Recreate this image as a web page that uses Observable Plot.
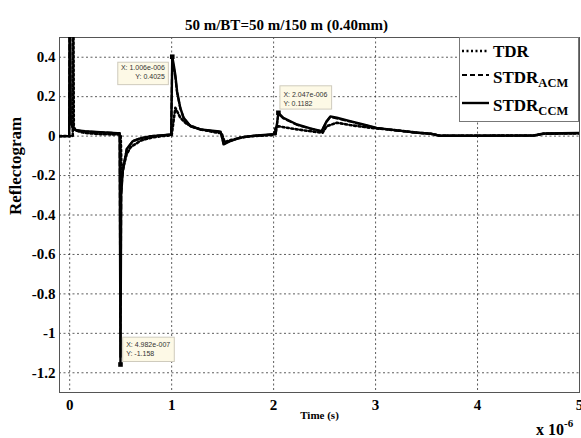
<!DOCTYPE html>
<html>
<head>
<meta charset="utf-8">
<script src="https://cdn.jsdelivr.net/npm/d3@7"></script>
<script src="https://cdn.jsdelivr.net/npm/@observablehq/plot@0.6"></script>
<style>
  html, body { margin: 0; padding: 0; background: #fff; }
  #chart { position: relative; width: 581px; height: 438px; }
</style>
</head>
<body>
<div id="chart"></div>
<script>
// ---- data (time in units of 1e-6 s) ----
const titleText = "50 m/BT=50 m/150 m (0.40mm)";
const xTicks = [0, 1, 2, 3, 4, 5];
const yTicks = [-1.2, -1, -0.8, -0.6, -0.4, -0.2, 0, 0.2, 0.4];
const yTickLabels = ["-1.2", "-1", "-0.8", "-0.6", "-0.4", "-0.2", "0", "0.2", "0.4"];

const tdrT = [-0.1, 0.03, 0.035, 0.04, 0.06, 0.1, 0.15, 0.3, 0.48, 0.5, 0.51, 0.53, 0.56, 0.6, 0.7, 0.8, 0.9, 1.0, 1.036, 1.085, 1.15, 1.28, 1.45, 1.49, 1.52, 1.58, 1.7, 1.8, 2.0, 2.02, 2.05, 2.1, 2.23, 2.4, 2.48, 2.52, 2.62, 2.75, 2.95, 3.21, 3.4, 3.54, 3.63, 4.0, 4.55, 4.65, 5.0];
const tdrV = [0, 0, 0.9, 0.045, 0.03, 0.022, 0.016, 0.01, 0.008, 0.006, -0.21, -0.15, -0.09, -0.055, -0.022, -0.008, 0.0, 0.004, 0.143, 0.093, 0.06, 0.034, 0.017, 0.015, -0.03, -0.02, -0.006, 0.0, 0.006, 0.042, 0.05, 0.045, 0.034, 0.022, 0.017, 0.05, 0.068, 0.056, 0.042, 0.029, 0.018, 0.012, 0.002, 0.002, 0.003, 0.012, 0.014];

const acmT = [-0.1, -0.005, 0.0, 0.01, 0.03, 0.06, 0.15, 0.3, 0.47, 0.49, 0.498, 0.505, 0.52, 0.56, 0.62, 0.7, 0.8, 0.95, 0.995, 1.006, 1.02, 1.036, 1.053, 1.085, 1.118, 1.185, 1.283, 1.445, 1.48, 1.51, 1.577, 1.67, 1.77, 1.97, 2.02, 2.047, 2.095, 2.23, 2.36, 2.47, 2.52, 2.556, 2.62, 2.75, 2.88, 3.01, 3.21, 3.41, 3.54, 3.63, 4.0, 4.55, 4.65, 5.0];
const acmV = [0, 0, 0.9, 0.073, 0.042, 0.03, 0.024, 0.019, 0.015, 0.014, -1.12, -0.3, -0.17, -0.065, -0.025, -0.01, 0.0, 0.006, 0.008, 0.39, 0.35, 0.3, 0.22, 0.14, 0.09, 0.05, 0.033, 0.024, 0.022, -0.04, -0.024, -0.008, 0.0, 0.008, 0.01, 0.114, 0.09, 0.057, 0.038, 0.024, 0.073, 0.097, 0.09, 0.074, 0.057, 0.041, 0.028, 0.017, 0.012, 0.002, 0.002, 0.003, 0.012, 0.015];

const ccmT = [-0.1, -0.005, 0.0, 0.01, 0.03, 0.06, 0.15, 0.3, 0.47, 0.49, 0.498, 0.505, 0.52, 0.56, 0.62, 0.7, 0.8, 0.95, 0.995, 1.006, 1.02, 1.036, 1.053, 1.085, 1.118, 1.185, 1.283, 1.445, 1.48, 1.51, 1.577, 1.67, 1.77, 1.97, 2.02, 2.047, 2.095, 2.23, 2.36, 2.47, 2.52, 2.556, 2.62, 2.75, 2.88, 3.01, 3.21, 3.41, 3.54, 3.63, 4.0, 4.55, 4.65, 5.0];
const ccmV = [0, 0, 0.9, 0.075, 0.042, 0.03, 0.025, 0.02, 0.015, 0.015, -1.158, -0.3, -0.18, -0.065, -0.025, -0.01, 0.0, 0.006, 0.008, 0.4025, 0.363, 0.31, 0.228, 0.143, 0.093, 0.05, 0.034, 0.025, 0.023, -0.042, -0.025, -0.008, 0.0, 0.008, 0.01, 0.1182, 0.093, 0.059, 0.039, 0.025, 0.076, 0.1, 0.093, 0.076, 0.059, 0.042, 0.029, 0.017, 0.012, 0.002, 0.002, 0.003, 0.013, 0.016];

const tipT = [1.006, 0.4982, 2.047];
const tipV = [0.4025, -1.158, 0.1182];
const tipXText = ["X: 1.006e-006", "X: 4.982e-007", "X: 2.047e-006"];
const tipYText = ["Y: 0.4025", "Y: -1.158", "Y: 0.1182"];

const seriesNames = ["TDR", "STDR", "STDR"];
const seriesSubs = ["", "ACM", "CCM"];

// ---- build tables ----
const tdr = tdrT.map((t, i) => ({t, v: tdrV[i]}));
const acm = acmT.map((t, i) => ({t, v: acmV[i]}));
const ccm = ccmT.map((t, i) => ({t, v: ccmV[i]}));
const tips = tipT.map((t, i) => ({t, v: tipV[i], xs: tipXText[i], ys: tipYText[i]}));

const serif = "'Liberation Serif', 'Times New Roman', serif";
const sans = "'Liberation Sans', Arial, sans-serif";

const plot = Plot.plot({
  width: 581,
  height: 438,
  marginTop: 37,
  marginRight: 2,
  marginBottom: 46,
  marginLeft: 59,
  style: {background: "#fff", fontFamily: serif},
  x: {domain: [-0.1, 5]},
  y: {domain: [-1.3, 0.5]},
  marks: [
    Plot.gridX(xTicks, {stroke: "#333", strokeOpacity: 1, strokeWidth: 0.8, strokeDasharray: "2,2.5"}),
    Plot.gridY(yTicks, {stroke: "#333", strokeOpacity: 1, strokeWidth: 0.8, strokeDasharray: "2,2.5"}),
    Plot.frame({stroke: "#555", strokeWidth: 1}),
    Plot.axisX(xTicks, {tickSize: 0, tickPadding: 7, tickFormat: d => String(d), fontSize: 15, fontWeight: "bold", fontFamily: serif, fill: "#000", label: null}),
    Plot.axisY(yTicks, {tickSize: 0, tickPadding: 4, tickFormat: (d, i) => yTickLabels[i], fontSize: 15, fontWeight: "bold", fontFamily: serif, fill: "#000", label: null}),
    Plot.line(acm, {x: "t", y: "v", stroke: "#000", strokeWidth: 2.2, strokeDasharray: "5,3", clip: true}),
    Plot.line(tdr, {x: "t", y: "v", stroke: "#000", strokeWidth: 2.6, strokeDasharray: "2,2.5", clip: true}),
    Plot.line(ccm, {x: "t", y: "v", stroke: "#000", strokeWidth: 2.4, clip: true}),
    Plot.dot(tips, {x: "t", y: "v", symbol: "square", r: 2.6, fill: "#000", stroke: "none"}),
    Plot.text([titleText], {frameAnchor: "top", dy: -18, dx: -33, fontSize: 15, fontWeight: "bold", fontFamily: serif, fill: "#000"}),
    Plot.text(["Reflectogram"], {frameAnchor: "left", dx: -44, rotate: -90, fontSize: 17, fontWeight: "bold", fontFamily: serif, fill: "#000"}),
    Plot.text(["Time (s)"], {frameAnchor: "bottom", dy: 26, fontSize: 11, fontWeight: "bold", fontFamily: serif, fill: "#000"})
  ]
});

document.getElementById("chart").appendChild(plot);

// ---- annotations (data tips, legend, exponent) ----
const svg = d3.select(plot);
const sx = plot.scale("x"), sy = plot.scale("y");

// data tip boxes: offsets relative to their data point
const tipLayout = [
  {bx: -54, by: 6, w: 50.6, h: 22.4, align: "end", tx: -6.9, l1: 11.1, l2: 20.4},
  {bx: 2.7, by: -26.8, w: 51.6, h: 24.3, align: "start", tx: 6, l1: -19.5, l2: -10.5},
  {bx: 2, by: -26.5, w: 51.7, h: 23.3, align: "start", tx: 6, l1: -18.2, l2: -9.2}
];
const gTips = svg.append("g");
tips.forEach((d, i) => {
  const L = tipLayout[i];
  const px = sx.apply(d.t), py = sy.apply(d.v);
  gTips.append("rect").attr("x", px + L.bx).attr("y", py + L.by).attr("width", L.w).attr("height", L.h)
    .attr("fill", "#fdf9e6").attr("stroke", "#cfcbbd").attr("stroke-width", 1);
  const tx = L.align === "end" ? px + L.tx : px + L.bx + 3.5;
  [[d.xs, L.l1], [d.ys, L.l2]].forEach(([s, dy]) => {
    gTips.append("text").attr("x", tx).attr("y", py + dy).attr("dy", "0.35em")
      .attr("text-anchor", L.align).attr("font-family", sans).attr("font-size", 7).attr("fill", "#333").text(s);
  });
});

// legend box
const gLeg = svg.append("g").attr("text-anchor", "start");
gLeg.append("rect").attr("x", 459.5).attr("y", 37.5).attr("width", 119).attr("height", 84)
  .attr("fill", "#fff").attr("stroke", "#777").attr("stroke-width", 1);
const legRows = [
  {y: 51, dash: "2,2.5", w: 2.6},
  {y: 75, dash: "5,3", w: 2.2},
  {y: 103, dash: null, w: 2.4}
];
legRows.forEach((r, i) => {
  const ln = gLeg.append("line").attr("x1", 462).attr("x2", 489).attr("y1", r.y).attr("y2", r.y)
    .attr("stroke", "#000").attr("stroke-width", r.w);
  if (r.dash) ln.attr("stroke-dasharray", r.dash);
  const t = gLeg.append("text").attr("x", 493).attr("y", r.y + (i === 0 ? 6 : 8))
    .attr("text-anchor", "start")
    .attr("font-family", serif).attr("font-weight", "bold").attr("font-size", 17).attr("fill", "#000");
  t.append("tspan").text(seriesNames[i]);
  if (seriesSubs[i]) t.append("tspan").attr("dy", 4).attr("font-size", 12.5).text(seriesSubs[i]);
});

// exponent label
const ex = svg.append("text").attr("x", 536).attr("y", 435).attr("text-anchor", "start")
  .attr("font-family", serif).attr("font-weight", "bold").attr("font-size", 16).attr("fill", "#000");
ex.append("tspan").text("x 10");
ex.append("tspan").attr("dy", -8).attr("font-size", 11).text("-6");
</script>
</body>
</html>
